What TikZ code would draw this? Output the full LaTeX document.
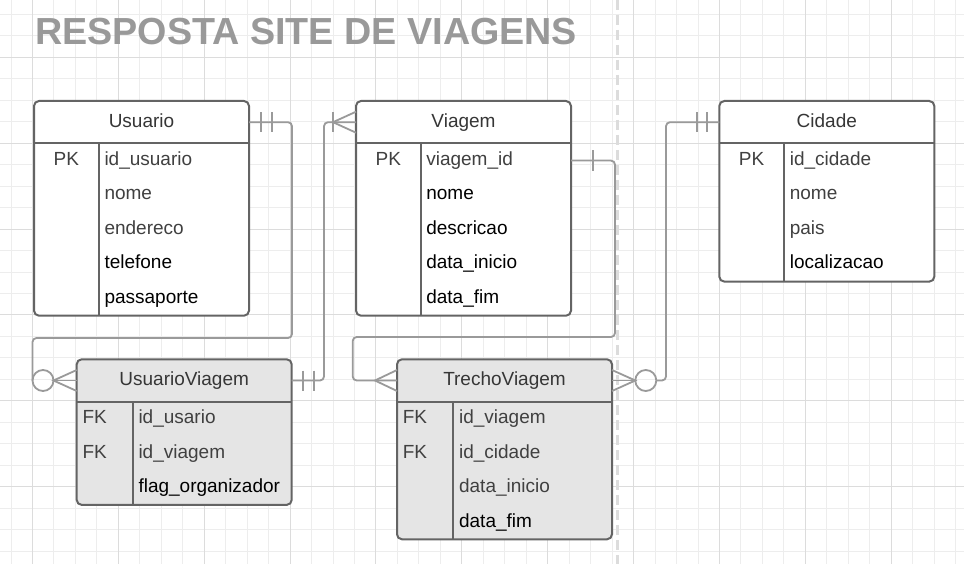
\documentclass[tikz,border=0pt]{standalone}
\usepackage{fontspec}
\setmainfont{Liberation Sans}
\usetikzlibrary{calc}
\definecolor{gridminor}{HTML}{EDEDED}
\definecolor{gridmajor}{HTML}{DCDCDC}
\definecolor{bordercol}{HTML}{646464}
\definecolor{conncol}{HTML}{9A9A9A}
\definecolor{fieldgray}{HTML}{404040}
\definecolor{hdrcol}{HTML}{363636}
\definecolor{titlecol}{HTML}{999999}
\definecolor{assocfill}{HTML}{E5E5E5}
\definecolor{dashcol}{HTML}{DCDCDC}
\begin{document}
\begin{tikzpicture}[x=1pt,y=-1pt,
  tbl/.style={draw=bordercol, line width=2pt, rounded corners=5pt, minimum width=215pt, inner sep=0pt, outer sep=0pt, anchor=north west, fill=white},
  assoc/.style={tbl, fill=assocfill},
  hdr/.style={minimum width=215pt, minimum height=42.4pt, inner sep=0pt, outer sep=0pt, anchor=north, text=hdrcol, font=\fontsize{19}{22}\selectfont, text height=14pt, text depth=4pt},
  fld/.style={anchor=west, inner xsep=5.6pt, inner ysep=0pt, text=fieldgray, font=\fontsize{19}{22}\selectfont, text height=14pt, text depth=4pt},
  fldb/.style={fld, text=black},
  keyc/.style={inner sep=0pt, text=fieldgray, font=\fontsize{19}{22}\selectfont, text height=14pt, text depth=4pt},
  tline/.style={draw=bordercol, line width=2pt},
  conn/.style={draw=conncol, line width=1.8pt, rounded corners=4pt},
  cend/.style={draw=conncol, line width=1.8pt},
  circ/.style={circle, draw=conncol, line width=1.8pt, minimum size=21pt, inner sep=0pt, outer sep=0pt},
  ]
\useasboundingbox (0,0) rectangle (964,564);
\fill[white] (0,0) rectangle (964,564);
% grid
\foreach \i in {0,...,44} {
  \pgfmathsetmacro\gx{11+21.47*\i}
  \draw[gridminor, line width=1pt] (\gx,0) -- (\gx,564);
}
\foreach \i in {0,...,25} {
  \pgfmathsetmacro\gy{14.4+21.47*\i}
  \draw[gridminor, line width=1pt] (0,\gy) -- (964,\gy);
}
\foreach \i in {0,...,10} {
  \pgfmathsetmacro\gx{32.47+85.88*\i}
  \draw[gridmajor, line width=1pt] (\gx,0) -- (\gx,564);
}
\foreach \i in {0,...,5} {
  \pgfmathsetmacro\gy{57.34+85.88*\i}
  \draw[gridmajor, line width=1pt] (0,\gy) -- (964,\gy);
}
% dashed separator
\draw[dashcol, line width=3pt, dash pattern=on 10pt off 5pt] (617,0) -- (617,564);
% title
\node[anchor=base west, inner sep=0pt, text=titlecol, font=\fontsize{37.7}{40}\selectfont\bfseries] (title) at (35,45) {RESPOSTA SITE DE VIAGENS};

% ---------- tables ----------
% Usuario
\node[tbl, minimum height=214.7pt] (usuario) at (34,101) {};
\node[hdr] (usuarioH) at (usuario.north) {Usuario};
\draw[tline] (usuarioH.south west) -- (usuarioH.south east);
\draw[tline] (98.7,143.4) -- (98.7,315.7);
\node[keyc] (uk1) at (66.35,160.6) {PK};
\node[fld] (u1) at (98.7,160.6) {id\_usuario};
\node[fld] (u2) at (98.7,195.0) {nome};
\node[fld] (u3) at (98.7,229.4) {endereco};
\node[fldb] (u4) at (98.7,263.8) {telefone};
\node[fldb] (u5) at (98.7,298.2) {passaporte};

% Viagem
\node[tbl, minimum height=214.7pt] (viagem) at (356,101) {};
\node[hdr] (viagemH) at (viagem.north) {Viagem};
\draw[tline] (viagemH.south west) -- (viagemH.south east);
\draw[tline] (420.5,143.4) -- (420.5,315.7);
\node[keyc] (vk1) at (388.25,160.6) {PK};
\node[fld] (v1) at (420.5,160.6) {viagem\_id};
\node[fldb] (v2) at (420.5,195.0) {nome};
\node[fldb] (v3) at (420.5,229.4) {descricao};
\node[fldb] (v4) at (420.5,263.8) {data\_inicio};
\node[fldb] (v5) at (420.5,298.2) {data\_fim};

% Cidade
\node[tbl, minimum height=180.6pt] (cidade) at (719.3,101) {};
\node[hdr] (cidadeH) at (cidade.north) {Cidade};
\draw[tline] (cidadeH.south west) -- (cidadeH.south east);
\draw[tline] (784,143.4) -- (784,281.7);
\node[keyc] (ck1) at (751.65,160.6) {PK};
\node[fld] (c1) at (784,160.6) {id\_cidade};
\node[fld] (c2) at (784,195.0) {nome};
\node[fld] (c3) at (784,229.4) {pais};
\node[fldb] (c4) at (784,263.8) {localizacao};

% UsuarioViagem
\node[assoc, minimum height=145.6pt] (uv) at (76.7,359.3) {};
\node[hdr] (uvH) at (uv.north) {UsuarioViagem};
\draw[tline] (uvH.south west) -- (uvH.south east);
\draw[tline] (132.7,401.7) -- (132.7,504.9);
\node[fld] (uvk1) at (76.7,418.9) {FK};
\node[fld] (uvk2) at (76.7,453.3) {FK};
\node[fld] (uv1) at (132.7,418.9) {id\_usario};
\node[fld] (uv2) at (132.7,453.3) {id\_viagem};
\node[fldb] (uv3) at (132.7,487.7) {flag\_organizador};

% TrechoViagem
\node[assoc, minimum height=180pt] (tv) at (397,359.3) {};
\node[hdr] (tvH) at (tv.north) {TrechoViagem};
\draw[tline] (tvH.south west) -- (tvH.south east);
\draw[tline] (453.3,401.7) -- (453.3,539.3);
\node[fld] (tvk1) at (397,418.9) {FK};
\node[fld] (tvk2) at (397,453.3) {FK};
\node[fld] (tv1) at (453.3,418.9) {id\_viagem};
\node[fld] (tv2) at (453.3,453.3) {id\_cidade};
\node[fld] (tv3) at (453.3,487.7) {data\_inicio};
\node[fldb] (tv4) at (453.3,522.1) {data\_fim};

% ---------- connectors ----------
% Usuario -> UsuarioViagem
\node[circ] (uvC) at ([xshift=-33.7pt]uvH.west) {};
\draw[conn] (usuarioH.east) -- ++(43,0) -- ++(0,215.8) -| (uvC.west);
\draw[cend] ([xshift=11.7pt,yshift=10pt]usuarioH.east) -- ++(0,20);
\draw[cend] ([xshift=22.7pt,yshift=10pt]usuarioH.east) -- ++(0,20);
\draw[cend] ([yshift=10.5pt]uvH.west) -- (uvC.east) -- ([yshift=-10.5pt]uvH.west);
\draw[cend] (uvC.east) -- (uvH.west);

% UsuarioViagem -> Viagem
\draw[conn] (uvH.east) -- ++(32.3,0) |- (viagemH.west);
\draw[cend] ([xshift=11.6pt,yshift=10pt]uvH.east) -- ++(0,20);
\draw[cend] ([xshift=22.3pt,yshift=10pt]uvH.east) -- ++(0,20);
\draw[cend] ([yshift=10.5pt]viagemH.west) -- ([xshift=-23pt]viagemH.west) -- ([yshift=-10.5pt]viagemH.west);
\draw[cend] ([xshift=-23pt,yshift=10pt]viagemH.west) -- ++(0,20);

% Viagem -> TrechoViagem
\coordinate (v1end) at (viagem.east |- v1.west);
\draw[conn] (v1end) -- ++(44,0) -- ++(0,176.4) -- ++(-262.3,0) |- (tvH.west);
\draw[cend] ([xshift=22.3pt,yshift=10.5pt]v1end) -- ++(0,21);
\draw[cend] ([yshift=10.5pt]tvH.west) -- ([xshift=-22pt]tvH.west) -- ([yshift=-10.5pt]tvH.west);

% TrechoViagem -> Cidade
\node[circ] (tvC) at ([xshift=33.8pt]tvH.east) {};
\draw[cend] ([yshift=10.5pt]tvH.east) -- (tvC.west) -- ([yshift=-10.5pt]tvH.east);
\draw[cend] (tvH.east) -- (tvC.west);
\draw[conn] (tvC.east) -- ++(9.7,0) |- (cidadeH.west);
\draw[cend] ([xshift=-22.6pt,yshift=10pt]cidadeH.west) -- ++(0,20);
\draw[cend] ([xshift=-12pt,yshift=10pt]cidadeH.west) -- ++(0,20);
\end{tikzpicture}
\end{document}
